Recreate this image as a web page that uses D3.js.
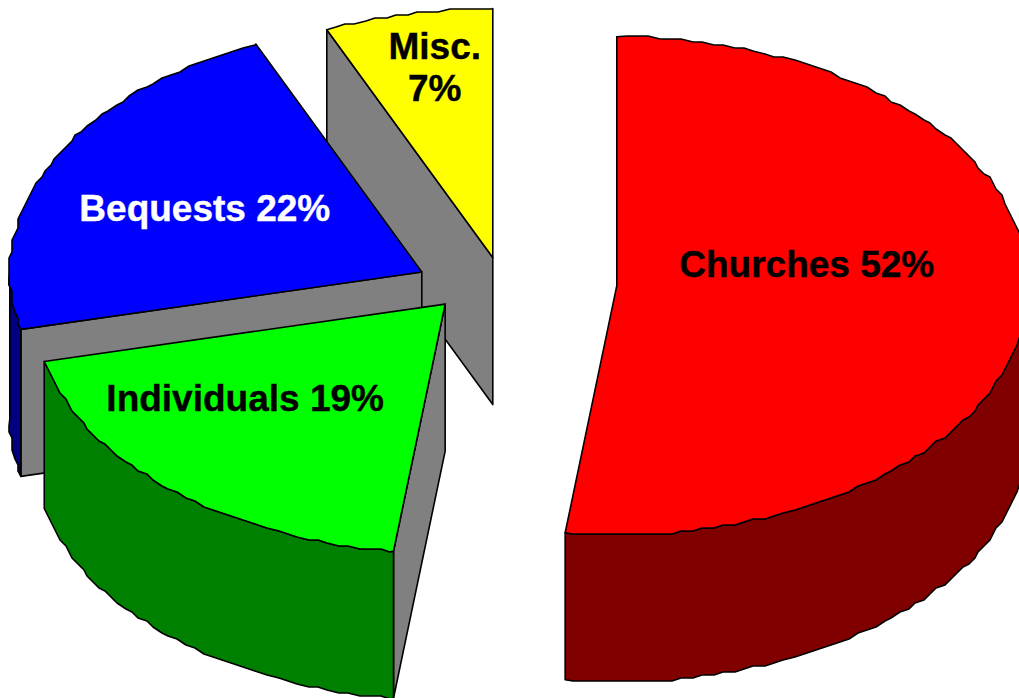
<!DOCTYPE html>
<html>
<head>
<meta charset="utf-8">
<script src="https://cdn.jsdelivr.net/npm/d3@7"></script>
<style>
  html, body { margin: 0; padding: 0; background: #fff; overflow: hidden; }
  text { font-family: "Liberation Sans", Arial, sans-serif; font-weight: bold; font-size: 37px; }
</style>
</head>
<body>
<svg width="1019" height="698"></svg>
<script>
let categories = ['Churches', 'Individuals', 'Bequests', 'Misc.']
let shares = [52, 19.3, 22.1, 6.6]
let topColors = ['#ff0000', '#00ff00', '#0000ff', '#ffff00']
let sideColors = ['#800000', '#008000', '#000080', '#808000']
let labelColors = ['#000', '#000', '#fff', '#000']

let wallColor = '#808080'
let width = 1019, height = 698
let centerX = 514, centerY = 284
let radiusX = 412, radiusY = 249
let explodeX = 103, explodeY = 27
let depth = 147
let grid = 3 // the outline in the original is stepped, snap the curve to this
let stepAngle = Math.PI / 120

// label centre, measured from the apex of its slice
let labelOffsets = [[190, -9], [-200, 107], [-217, -51], [-58, -199]]

let svg = d3.select('svg')
let slices = d3.pie().sort(null).value(d => d)(shares)
let line = d3.line()

function snap(v) {
  return Math.round(v / grid) * grid
}

function apex(slice) {
  let mid = (slice.startAngle + slice.endAngle) / 2
  return [centerX + explodeX * Math.sin(mid), centerY - explodeY * Math.cos(mid)]
}

function rim(slice, angle) {
  let a = apex(slice)
  return [a[0] + radiusX * Math.sin(angle), a[1] - radiusY * Math.cos(angle)]
}

// points along the rim, ends kept exact so the radial edges stay straight.
// inner points sit on fixed angles so the top and side faces share them
function rimPoints(slice, from, to) {
  let pts = [rim(slice, from)]
  let k = Math.floor(from / stepAngle) + 1
  for (; k * stepAngle < to; k++) {
    let p = rim(slice, k * stepAngle)
    pts.push([snap(p[0]), snap(p[1])])
  }
  pts.push(rim(slice, to))
  return pts
}

function drop(p) {
  return [p[0], p[1] + depth]
}

function drawPoly(pts, fill) {
  svg.append('path')
    .attr('d', line(pts) + 'Z')
    .attr('fill', fill)
    .attr('stroke', '#000')
    .attr('stroke-width', 1.6)
    .attr('stroke-linejoin', 'round')
}

// back to front
for (let i = slices.length - 1; i >= 0; i--) {
  let s = slices[i]
  let a = apex(s)
  let start = rim(s, s.startAngle)

  // cut face on the start side of the slice
  drawPoly([a, start, drop(start), drop(a)], wallColor)

  // only the front half of the rim can be seen
  let from = Math.max(s.startAngle, Math.PI / 2)
  let to = Math.min(s.endAngle, Math.PI * 3 / 2)
  if (from < to) {
    let edge = rimPoints(s, from, to)
    drawPoly(edge.concat(edge.map(drop).reverse()), sideColors[i])
  }

  drawPoly([a].concat(rimPoints(s, s.startAngle, s.endAngle)), topColors[i])
}

slices.forEach(function (s, i) {
  let a = apex(s)
  let x = a[0] + labelOffsets[i][0]
  let y = a[1] + labelOffsets[i][1]
  let pct = Math.round(s.value) + '%'
  let text = svg.append('text')
    .attr('text-anchor', 'middle')
    .attr('fill', labelColors[i])
    .attr('stroke', labelColors[i])
    .attr('stroke-width', 0.4)
  if (categories[i] == 'Misc.') {
    text.append('tspan').attr('x', x).attr('y', y).text(categories[i])
    text.append('tspan').attr('x', x).attr('y', y + 42).text(pct)
  } else {
    text.attr('x', x).attr('y', y).text(categories[i] + ' ' + pct)
  }
})
</script>
</body>
</html>
